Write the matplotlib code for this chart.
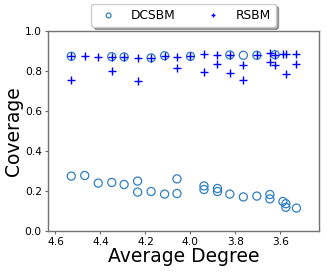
import matplotlib
matplotlib.use("Agg")
import matplotlib.pyplot as plt

# DCSBM coverage values (average degree, coverage)
dcsbm_deg = [4.53, 4.53, 4.47, 4.41, 4.35, 4.35, 4.295, 4.295, 4.235, 4.235,
             4.175, 4.175, 4.115, 4.115, 4.06, 4.06, 4.0, 3.94, 3.94, 3.88,
             3.88, 3.825, 3.825, 3.765, 3.765, 3.705, 3.705, 3.647, 3.647,
             3.624, 3.589, 3.576, 3.576, 3.529]
dcsbm_cov = [0.872, 0.273, 0.276, 0.238, 0.870, 0.241, 0.869, 0.231, 0.248, 0.193,
             0.864, 0.196, 0.875, 0.183, 0.259, 0.186, 0.872, 0.224, 0.206, 0.211,
             0.196, 0.879, 0.183, 0.877, 0.169, 0.877, 0.173, 0.181, 0.159,
             0.880, 0.146, 0.135, 0.117, 0.113]

# RSBM coverage values
rsbm_deg = [4.53, 4.53, 4.47, 4.41, 4.35, 4.35, 4.295, 4.235, 4.235, 4.175,
            4.115, 4.06, 4.06, 4.0, 3.94, 3.94, 3.88, 3.88, 3.825, 3.825,
            3.765, 3.765, 3.705, 3.647, 3.647, 3.624, 3.624, 3.589, 3.576,
            3.576, 3.529, 3.529]
rsbm_cov = [0.872, 0.754, 0.872, 0.870, 0.870, 0.797, 0.869, 0.864, 0.749, 0.864,
            0.875, 0.870, 0.812, 0.872, 0.882, 0.792, 0.880, 0.834, 0.879, 0.786,
            0.829, 0.751, 0.877, 0.889, 0.841, 0.880, 0.829, 0.885, 0.883,
            0.781, 0.884, 0.834]

x_ticks = [4.6, 4.4, 4.2, 4.0, 3.8, 3.6]
y_ticks = [0.0, 0.2, 0.4, 0.6, 0.8, 1.0]

fig = plt.figure(figsize=(3.27, 2.74), dpi=100)
ax = fig.add_axes([0.147, 0.158, 0.829, 0.730])

ax.scatter(dcsbm_deg, dcsbm_cov, s=34, facecolors='none', edgecolors='#2f7fc1',
           linewidths=0.9, label='DCSBM', zorder=2)
ax.scatter(rsbm_deg, rsbm_cov, s=26, marker='+', color='#0000ff',
           linewidths=1.0, label='RSBM', zorder=3)

ax.set_xlim(4.633, 3.428)
ax.set_ylim(0.0, 1.0)
ax.set_xticks(x_ticks)
ax.set_xticklabels([f"{v:.1f}" for v in x_ticks])
ax.set_yticks(y_ticks)
ax.set_yticklabels([f"{v:.1f}" for v in y_ticks])
ax.tick_params(labelsize=7.7, length=2.5, width=0.8, color='0.4', pad=2)

for sp in ax.spines.values():
    sp.set_color('0.45')
    sp.set_linewidth(1.0)

ax.set_xlabel('Average Degree', fontsize=13.5, labelpad=0)
ax.set_ylabel('Coverage', fontsize=13.5, labelpad=1)

leg = ax.legend(loc='upper center', bbox_to_anchor=(0.5, 1.165), ncol=2,
                fontsize=8.8, shadow=True, frameon=True, columnspacing=2.05,
                handletextpad=0.84, borderpad=0.4, fancybox=True, markerscale=0.6)
leg.get_frame().set_edgecolor('0.8')

fig.savefig('out.png', dpi=100)
